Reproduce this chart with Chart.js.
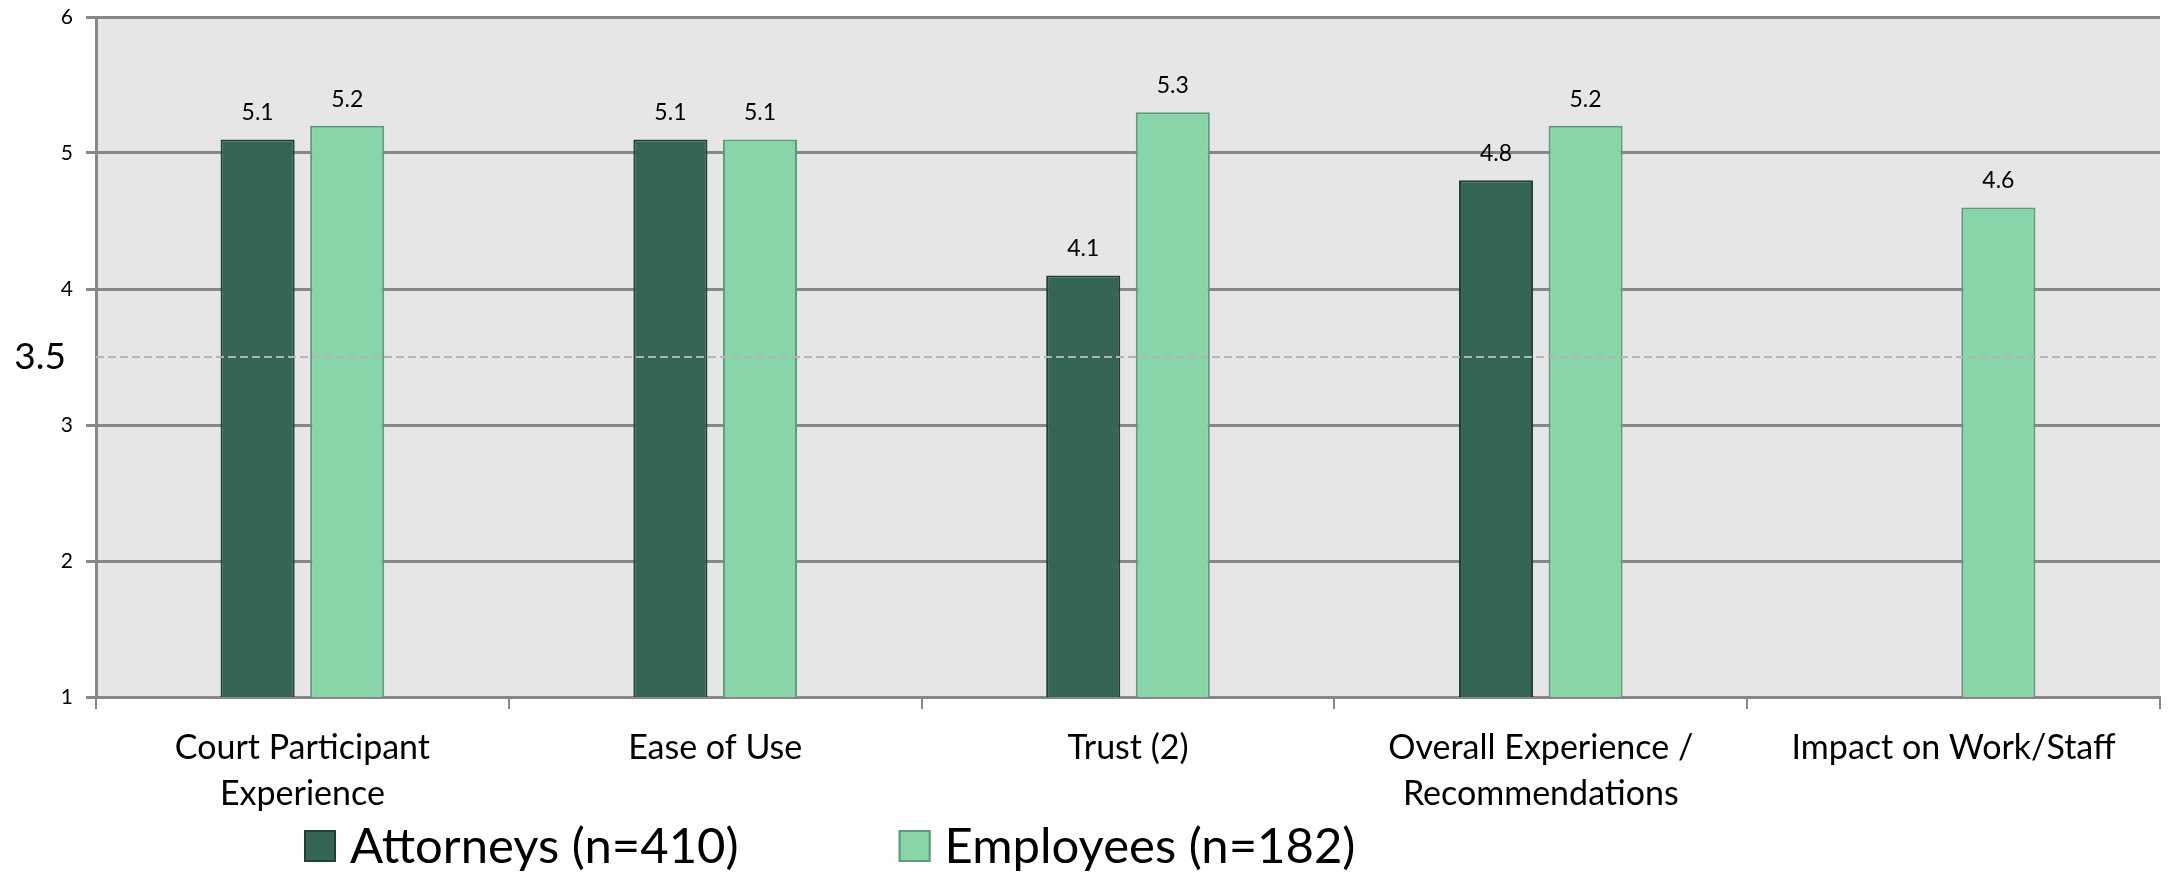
<!DOCTYPE html>
<html>
<head>
<meta charset="utf-8">
<script src="https://cdn.jsdelivr.net/npm/chart.js@4"></script>
<style>
  html, body { margin: 0; padding: 0; background: #ffffff; }
  #wrap { width: 2171px; height: 872px; position: relative; }
</style>
</head>
<body>
<div id="wrap"><canvas id="chart"></canvas></div>
<script>
// data
const categories = [
    ['Court Participant', 'Experience'],
    'Ease of Use',
    'Trust (2)',
    ['Overall Experience /', 'Recommendations'],
    'Impact on Work/Staff'
];
const attorneys = [5.1, 5.1, 4.1, 4.8, null];
const employees = [5.2, 5.1, 5.3, 5.2, 4.6];
const seriesNames = ['Attorneys (n=410)', 'Employees (n=182)'];
const yTicks = [1, 2, 3, 4, 5, 6];
const refLine = 3.5;

const FONT = 'Lato, "Open Sans", sans-serif';
const GRID = '#878787';

// grey plot background
const plotBg = {
    id: 'plotBg',
    beforeDraw(chart) {
        const a = chart.chartArea;
        const ctx = chart.ctx;
        ctx.save();
        ctx.fillStyle = '#e6e6e6';
        ctx.fillRect(a.left, a.top, a.right - a.left, a.bottom - a.top);
        ctx.restore();
    }
};

// dashed reference line + its big label
const refLinePlugin = {
    id: 'refLine',
    afterDatasetsDraw(chart) {
        const a = chart.chartArea;
        const y = chart.scales.y.getPixelForValue(refLine);
        const ctx = chart.ctx;
        ctx.save();
        ctx.strokeStyle = '#b4b4b4';
        ctx.lineWidth = 2;
        ctx.setLineDash([8, 4]);
        ctx.beginPath();
        ctx.moveTo(a.left, y);
        ctx.lineTo(a.right, y);
        ctx.stroke();
        ctx.setLineDash([]);
        ctx.fillStyle = '#000000';
        ctx.font = '37px ' + FONT;
        ctx.textAlign = 'right';
        ctx.textBaseline = 'middle';
        ctx.fillText(String(refLine), a.left - 30, y);
        ctx.restore();
    }
};

// value labels above bars
const valueLabels = {
    id: 'valueLabels',
    afterDatasetsDraw(chart) {
        const ctx = chart.ctx;
        ctx.save();
        ctx.font = '23px ' + FONT;
        ctx.fillStyle = '#000000';
        ctx.textAlign = 'center';
        ctx.textBaseline = 'alphabetic';
        chart.data.datasets.forEach((ds, i) => {
            chart.getDatasetMeta(i).data.forEach((bar, j) => {
                const v = ds.data[j];
                if (v === null || v === undefined) return;
                ctx.fillText(v.toFixed(1), bar.x, bar.y - 19);
            });
        });
        ctx.restore();
    }
};

// legend drawn under the axis labels
const bottomLegend = {
    id: 'bottomLegend',
    afterDraw(chart) {
        const ctx = chart.ctx;
        const a = chart.chartArea;
        const cy = chart.height - 26;
        let x = a.left + 208;
        ctx.save();
        ctx.font = '49px ' + FONT;
        ctx.textBaseline = 'middle';
        ctx.textAlign = 'left';
        chart.data.datasets.forEach(ds => {
            ctx.fillStyle = ds.backgroundColor;
            ctx.fillRect(x, cy - 16, 32, 32);
            ctx.strokeStyle = ds.borderColor;
            ctx.lineWidth = 2;
            ctx.strokeRect(x + 1, cy - 15, 30, 30);
            ctx.fillStyle = '#000000';
            ctx.fillText(ds.label, x + 46, cy + 1);
            x += 46 + ctx.measureText(ds.label).width + 160;
        });
        ctx.restore();
    }
};

document.addEventListener('DOMContentLoaded', function() {
    const canvas = document.getElementById('chart');
    canvas.width = 2171;
    canvas.height = 872;

    new Chart(canvas.getContext('2d'), {
        type: 'bar',
        data: {
            labels: categories,
            datasets: [{
                label: seriesNames[0],
                data: attorneys,
                backgroundColor: '#356555',
                borderColor: '#1f4134',
                borderWidth: 2,
                categoryPercentage: 0.434,
                barPercentage: 0.827
            }, {
                label: seriesNames[1],
                data: employees,
                backgroundColor: '#88d5a8',
                borderColor: '#5f9a7b',
                borderWidth: 2,
                categoryPercentage: 0.434,
                barPercentage: 0.827
            }]
        },
        options: {
            responsive: false,
            animation: false,
            layout: { padding: { top: 17, right: 11, bottom: 0, left: 0 } },
            plugins: {
                legend: { display: false },
                tooltip: { enabled: false }
            },
            scales: {
                x: {
                    afterFit(scale) {
                        scale.height = 175;
                        scale.paddingTop = 0;
                        scale.paddingBottom = 0;
                    },
                    grid: {
                        offset: true,
                        drawOnChartArea: false,
                        drawTicks: true,
                        tickLength: 12,
                        color: GRID,
                        lineWidth: 2
                    },
                    border: { display: true, color: GRID, width: 3 },
                    ticks: {
                        color: '#000000',
                        padding: 16,
                        maxRotation: 0,
                        autoSkip: false,
                        font: { family: FONT, size: 34, lineHeight: 1.36 }
                    }
                },
                y: {
                    min: yTicks[0],
                    max: yTicks[yTicks.length - 1],
                    afterFit(scale) {
                        scale.width = 96;
                        scale.paddingTop = 0;
                        scale.paddingBottom = 0;
                    },
                    afterBuildTicks(scale) {
                        scale.ticks = yTicks.map(v => ({ value: v }));
                    },
                    grid: {
                        color: GRID,
                        lineWidth: 3,
                        tickLength: 10
                    },
                    border: { display: true, color: GRID, width: 3 },
                    ticks: {
                        color: '#000000',
                        padding: 13,
                        font: { family: FONT, size: 21 }
                    }
                }
            }
        },
        plugins: [plotBg, refLinePlugin, valueLabels, bottomLegend]
    });
});
</script>
</body>
</html>
